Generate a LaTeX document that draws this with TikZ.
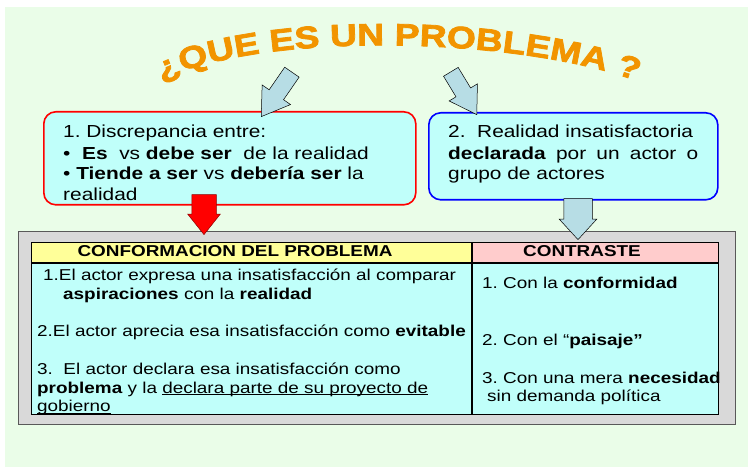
\documentclass[tikz,border=0pt]{standalone}
\usepackage{fontspec}
\setmainfont{Liberation Sans}[FakeStretch=1.2]
\newfontfamily\titlefont{Liberation Sans Bold}[FakeStretch=1.2,FakeBold=2.5]
\usetikzlibrary{shapes.arrows,decorations.text}
\frenchspacing

\definecolor{bggreen}{RGB}{234,253,232}
\definecolor{boxcyan}{RGB}{192,255,250}
\definecolor{arrowblue}{RGB}{183,221,229}
\definecolor{titleorange}{RGB}{242,148,0}
\definecolor{hdyellow}{RGB}{255,255,153}
\definecolor{hdpink}{RGB}{255,204,204}
\definecolor{framegray}{RGB}{217,217,217}

\newsavebox{\undlbox}
\newcommand{\undl}[1]{\sbox{\undlbox}{#1}\rlap{\rule[-1.8pt]{\wd\undlbox}{0.7pt}}\usebox{\undlbox}}

\begin{document}
\begin{tikzpicture}[x=1pt, y=-1pt, font=\fontsize{17.4}{21}\selectfont,
    roundbox/.style={ draw, line width=1.6pt, rounded corners=12pt,
      fill=boxcyan, anchor=north west },
    cell/.style={ draw=black, line width=0.6pt, inner sep=0pt,
      anchor=north west },
    blockarrow/.style={ single arrow, draw=black, fill=arrowblue,
      line width=0.5pt, inner xsep=0pt, minimum width=0pt, anchor=tip },
    boxtext/.style={ anchor=base west, inner sep=0pt, align=left },
    celltext/.style={ anchor=base west, inner sep=0pt, align=left,
      font=\fontsize{15.75}{19}\selectfont },
    headtext/.style={ anchor=base, inner sep=0pt,
      font=\fontsize{15.75}{19}\selectfont\bfseries } ]
  \useasboundingbox (0,0) rectangle (748,468);
  \fill[bggreen] (5,7) rectangle (748,467);

  % title
  \path[decorate, decoration={ text along path, text align=center,
      text color=titleorange,
      text={|\titlefont\fontsize{31}{31}\selectfont|¿QUE ES UN PROBLEMA ?} }]
    (130,98) -- (155,84) .. controls (250,30) and (520,35) .. (645,84)
    -- (670,94);

  % table
  \node[draw=black!65, line width=0.8pt, fill=framegray, inner sep=0pt,
    minimum width=717pt, minimum height=193pt, anchor=north west]
    (frame) at (18,231) {};
  \node[cell, fill=hdyellow, minimum width=440pt, minimum height=20pt]
    (hdconf) at (31,242) {};
  \node[cell, fill=hdpink, minimum width=246pt, minimum height=20pt]
    (hdcontr) at (hdconf.north east) {};
  \node[cell, fill=boxcyan, minimum width=440pt, minimum height=151pt]
    (bdconf) at (hdconf.south west) {};
  \node[cell, fill=boxcyan, minimum width=246pt, minimum height=151pt]
    (bdcontr) at (hdcontr.south west) {};

  % boxes
  \node[roundbox, draw=red, minimum width=372pt, minimum height=93pt]
    (discrep) at (43,111) {};
  \node[roundbox, draw=blue, minimum width=289pt, minimum height=87pt]
    (declar) at (428,112) {};

  % arrows
  \node[blockarrow, rotate=-124.6, minimum height=54pt, inner ysep=8.5pt,
    single arrow head extend=8.5pt, single arrow tip angle=66]
    (arrconf) at (261,117) {};
  \node[blockarrow, rotate=-58.8, minimum height=50pt, inner ysep=8.3pt,
    single arrow head extend=8pt, single arrow tip angle=65]
    (arrdecl) at (477,115) {};
  \node[blockarrow, fill=red, draw=red!55!black, rotate=-90,
    minimum height=40pt, inner ysep=12pt, single arrow head extend=4pt,
    single arrow tip angle=77] (arrdown) at (204,235) {};
  \node[blockarrow, rotate=-90, minimum height=41pt, inner ysep=14pt,
    single arrow head extend=4.5pt, single arrow tip angle=85]
    (arrcontr) at (578,240) {};

  % texts (base = last line)
  \node[boxtext] (discreptxt) at (63,201) {1. Discrepancia entre:\\
    •\ \ \textbf{Es}\ \ vs \textbf{debe ser}\ \ de la realidad\\
    • \textbf{Tiende a ser} vs \textbf{debería ser} la\\realidad};
  \node[boxtext] (declartxt) at (448,180) {2.\ \ Realidad insatisfactoria\\
    \makebox[250pt][s]{\textbf{declarada} por un actor o}\\grupo de actores};

  \node[headtext] (hdconftxt) at (235,257) {CONFORMACION DEL PROBLEMA};
  \node[headtext] (hdcontrtxt) at (582,257) {CONTRASTE};

  \node[celltext, font=\fontsize{15.75}{20}\selectfont] (conf1) at (43,300)
    {1.El actor expresa una insatisfacción al comparar\\
    \hspace*{20pt}\textbf{aspiraciones} con la \textbf{realidad}};
  \node[celltext] (conf2) at (37,336.7)
    {2.El actor aprecia esa insatisfacción como \textbf{evitable}};
  \node[celltext, font=\fontsize{15.75}{18.7}\selectfont] (conf3) at (37,411.7)
    {3.\ \ El actor declara esa insatisfacción como\\
    \textbf{problema} y la \undl{declara parte de su proyecto de}\\
    \undl{gobierno}};

  \node[celltext] (contr1) at (482,288.3) {1. Con la \textbf{conformidad}};
  \node[celltext] (contr2) at (482,345.7) {2. Con el “\textbf{paisaje”}};
  \node[celltext, font=\fontsize{15.75}{18.4}\selectfont] (contr3) at (482,401.7)
    {3. Con una mera \textbf{necesidad}\\\hspace*{5pt}sin demanda política};
\end{tikzpicture}
\end{document}
